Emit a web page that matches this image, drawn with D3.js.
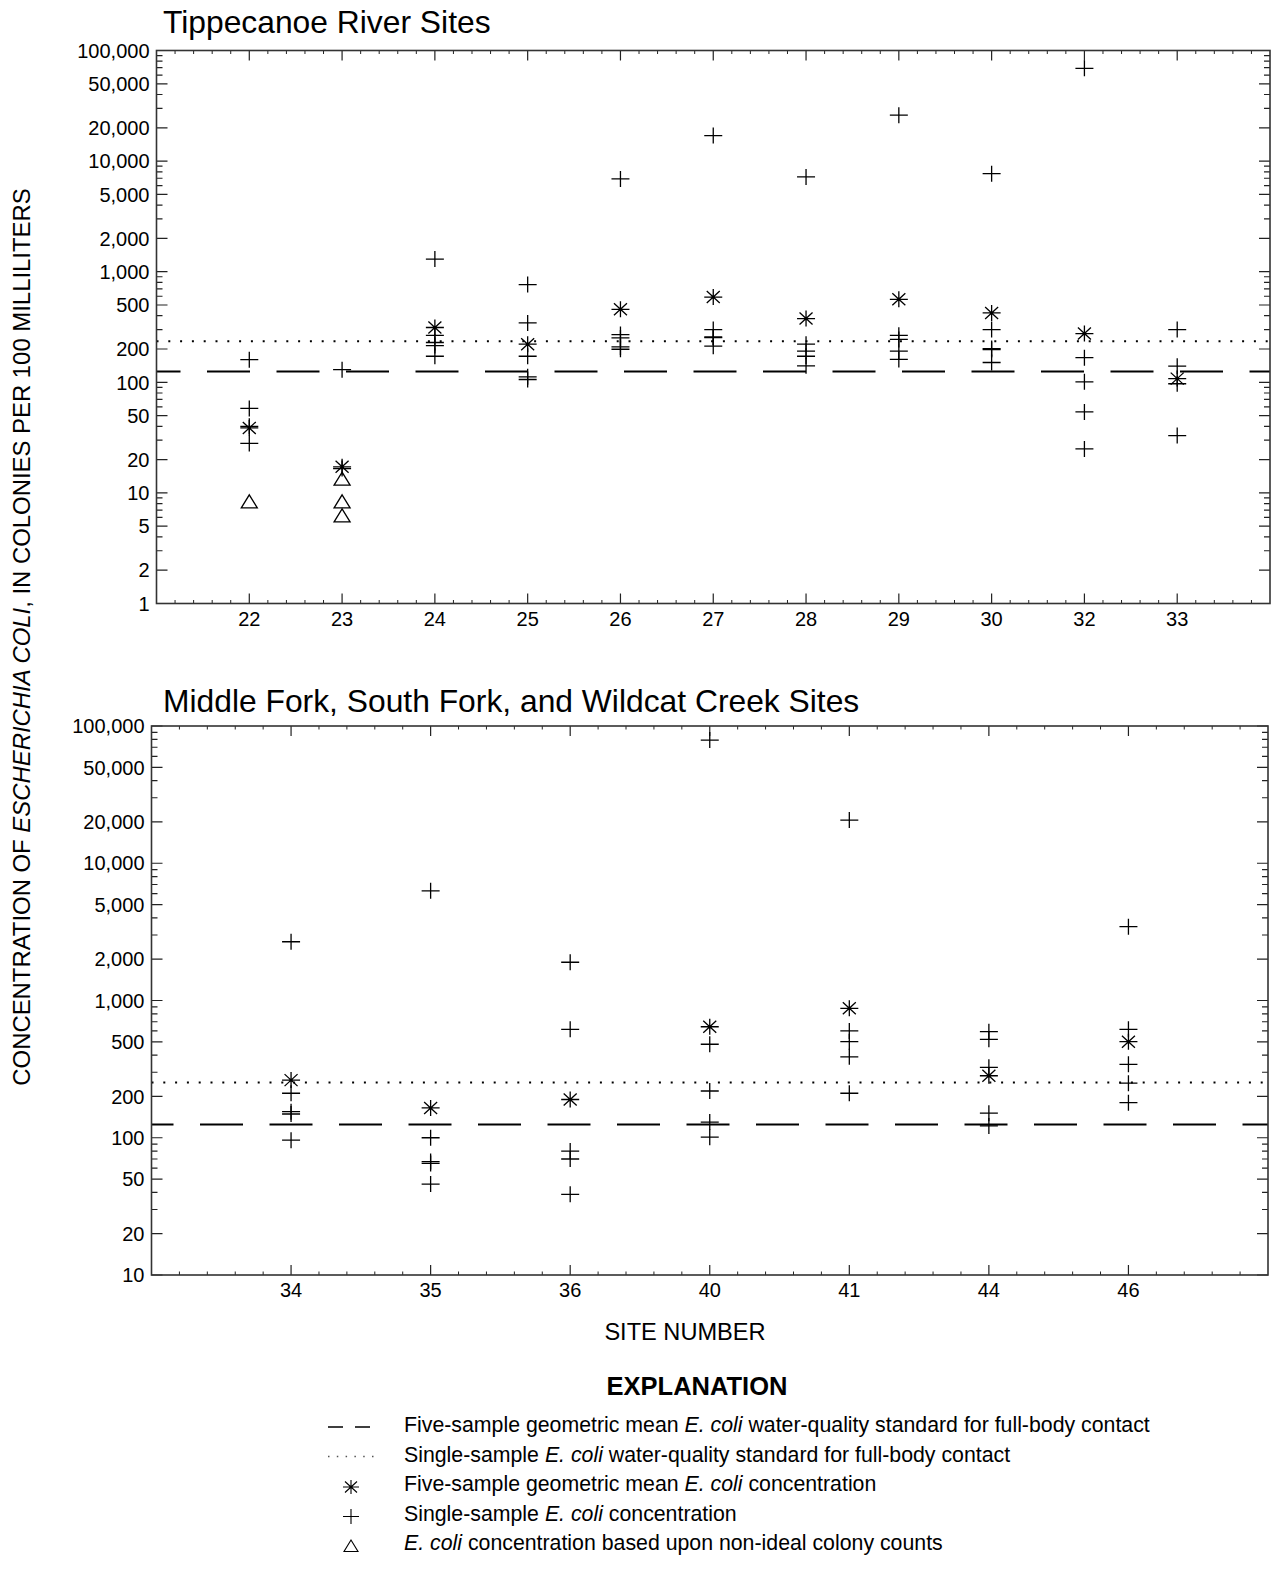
<!DOCTYPE html>
<html>
<head>
<meta charset="utf-8">
<script src="https://cdn.jsdelivr.net/npm/d3@7"></script>
<style>
  body { margin: 0; background: #fff; }
  svg { display: block; font-family: "Liberation Sans", Arial, sans-serif; }
</style>
</head>
<body>
<svg id="chart" width="1276" height="1569"></svg>
<script>
// upper panel: Tippecanoe River sites
const topSites = ['22', '23', '24', '25', '26', '27', '28', '29', '30', '32', '33'];
const topSingle = [
  [160, 58, 40, 28],
  [130, 16.6],
  [1300, 266, 229, 215, 172],
  [765, 344, 172, 112, 106],
  [6900, 270, 252, 209, 199],
  [17000, 300, 257, 254, 212],
  [7200, 221, 191, 172, 141],
  [26000, 266, 244, 191, 161],
  [7700, 300, 202, 198, 151],
  [69000, 167, 101, 54, 25],
  [300, 140, 97, 33]
];
const topNonIdeal = [[8.3], [13.3, 8.3, 6.2], [], [], [], [], [], [], [], [], []];
const topGeoMean = [38.7, 17.2, 313, 221, 457, 590, 377, 563, 424, 276, 108];
const topYTicks = [1, 2, 5, 10, 20, 50, 100, 200, 500, 1000, 2000, 5000, 10000, 20000, 50000, 100000];

// lower panel: Middle Fork, South Fork, and Wildcat Creek sites
const bottomSites = ['34', '35', '36', '40', '41', '44', '46'];
const bottomSingle = [
  [2680, 211, 155, 149, 96],
  [6300, 100, 67, 65, 46],
  [1900, 617, 80, 70, 38.7],
  [79000, 480, 219, 130, 101],
  [20650, 600, 501, 389, 211],
  [593, 521, 326, 151, 122],
  [3450, 617, 343, 250, 180]
];
const bottomNonIdeal = [[], [], [], [], [], [], []];
const bottomGeoMean = [263, 165, 190, 644, 877, 283, 501];
const bottomYTicks = [10, 20, 50, 100, 200, 500, 1000, 2000, 5000, 10000, 20000, 50000, 100000];

// water-quality standards (upper, lower)
const geoMeanStandard = [125, 125];
const singleStandard = [235, 253];

const svg = d3.select('#chart');
const fmt = d3.format(',');

const panels = [
  {
    title: 'Tippecanoe River Sites', titleY: 33,
    left: 156.5, right: 1270, top: 50.5, bottom: 603.5,
    sites: topSites, single: topSingle, nonIdeal: topNonIdeal, geo: topGeoMean,
    yTicks: topYTicks, domain: [1, 100000], dashOffset: 19
  },
  {
    title: 'Middle Fork, South Fork, and Wildcat Creek Sites', titleY: 712,
    left: 151.5, right: 1268, top: 726, bottom: 1275,
    sites: bottomSites, single: bottomSingle, nonIdeal: bottomNonIdeal, geo: bottomGeoMean,
    yTicks: bottomYTicks, domain: [10, 100000], dashOffset: 21
  }
];

const plusPath = 'M-9,0H9M0,-8V8';
const starPath = 'M-9,0H9M0,-8V8M-6.5,-6L6.5,6M-6.5,6L6.5,-6';
const triPath = 'M0,-7L8,6H-8Z';

panels.forEach((p, pi) => {
  const n = p.sites.length;
  const x = d3.scaleLinear().domain([0, n + 1]).range([p.left, p.right]);
  const y = d3.scaleLog().domain(p.domain).range([p.bottom, p.top]);
  const g = svg.append('g');

  // title
  g.append('text')
    .attr('x', 163).attr('y', p.titleY)
    .attr('font-size', 31.8)
    .text(p.title);

  // standards lines
  g.append('line')
    .attr('x1', p.left).attr('x2', p.right)
    .attr('y1', y(singleStandard[pi])).attr('y2', y(singleStandard[pi]))
    .attr('stroke', '#000').attr('stroke-width', 2)
    .attr('stroke-dasharray', '2 9.8');
  g.append('line')
    .attr('x1', p.left).attr('x2', p.right)
    .attr('y1', y(geoMeanStandard[pi])).attr('y2', y(geoMeanStandard[pi]))
    .attr('stroke', '#000').attr('stroke-width', 2)
    .attr('stroke-dasharray', '43 26.5')
    .attr('stroke-dashoffset', p.dashOffset);

  // y ticks
  const major = new Set(p.yTicks);
  y.ticks().forEach(v => {
    const len = major.has(v) ? 11 : 6;
    g.append('path')
      .attr('d', `M${p.left},${y(v)}h${len}M${p.right},${y(v)}h${-len}`)
      .attr('stroke', '#222').attr('stroke-width', 1.2);
  });
  g.selectAll('.ylab')
    .data(p.yTicks)
    .enter()
    .append('text')
    .attr('x', p.left - 7)
    .attr('y', d => y(d))
    .attr('dy', '0.36em')
    .attr('text-anchor', 'end')
    .attr('font-size', 20)
    .text(d => fmt(d));

  // x ticks
  for (let i = 0; i <= n; i++) {
    for (let k = 1; k < 5; k++) {
      const xv = x(i + k / 5);
      g.append('path')
        .attr('d', `M${xv},${p.bottom}v-3.5M${xv},${p.top}v3.5`)
        .attr('stroke', '#222').attr('stroke-width', 1);
    }
  }
  p.sites.forEach((s, i) => {
    const xv = x(i + 1);
    g.append('path')
      .attr('d', `M${xv},${p.bottom}v-10M${xv},${p.top}v10`)
      .attr('stroke', '#222').attr('stroke-width', 1.2);
    g.append('text')
      .attr('x', xv).attr('y', p.bottom + 22)
      .attr('text-anchor', 'middle')
      .attr('font-size', 20)
      .text(s);
  });

  // frame
  g.append('rect')
    .attr('x', p.left).attr('y', p.top)
    .attr('width', p.right - p.left).attr('height', p.bottom - p.top)
    .attr('fill', 'none').attr('stroke', '#333').attr('stroke-width', 1.6);

  // markers
  const pts = [];
  p.single.forEach((vals, i) => vals.forEach(v => pts.push({ i, v, type: 'plus' })));
  p.nonIdeal.forEach((vals, i) => vals.forEach(v => pts.push({ i, v, type: 'tri' })));
  p.geo.forEach((v, i) => pts.push({ i, v, type: 'star' }));

  g.selectAll('.mark')
    .data(pts)
    .enter()
    .append('path')
    .attr('transform', d => `translate(${x(d.i + 1)},${y(d.v)})`)
    .attr('d', d => d.type === 'plus' ? plusPath : d.type === 'star' ? starPath : triPath)
    .attr('fill', 'none')
    .attr('stroke', '#000')
    .attr('stroke-width', 1.3);
});

// axis titles
const yTitle = svg.append('text')
  .attr('transform', 'translate(30,637) rotate(-90)')
  .attr('text-anchor', 'middle')
  .attr('font-size', 23.9);
yTitle.append('tspan').text('CONCENTRATION OF ');
yTitle.append('tspan').attr('font-style', 'italic').text('ESCHERICHIA COLI');
yTitle.append('tspan').text(', IN COLONIES PER 100 MILLILITERS');

svg.append('text')
  .attr('x', 685).attr('y', 1340)
  .attr('text-anchor', 'middle')
  .attr('font-size', 23.6)
  .text('SITE NUMBER');

// explanation
svg.append('text')
  .attr('x', 697).attr('y', 1395)
  .attr('text-anchor', 'middle')
  .attr('font-size', 25.5)
  .attr('font-weight', 'bold')
  .text('EXPLANATION');

const legendRows = [
  { sym: 'dash', parts: ['Five-sample geometric mean ', 'E. coli', ' water-quality standard for full-body contact'] },
  { sym: 'dot', parts: ['Single-sample ', 'E. coli', ' water-quality standard for full-body contact'] },
  { sym: 'star', parts: ['Five-sample geometric mean ', 'E. coli', ' concentration'] },
  { sym: 'plus', parts: ['Single-sample ', 'E. coli', ' concentration'] },
  { sym: 'tri', parts: ['', 'E. coli', ' concentration based upon non-ideal colony counts'] }
];

legendRows.forEach((r, i) => {
  const cy = 1425 + i * 29.5;
  const t = svg.append('text')
    .attr('x', 404).attr('y', cy).attr('dy', '0.35em')
    .attr('font-size', 21.3);
  r.parts.forEach((s, j) => {
    if (s) t.append('tspan').attr('font-style', j === 1 ? 'italic' : null).text(s);
  });
  const sy = cy + 2;
  if (r.sym === 'dash') {
    svg.append('path').attr('d', `M328,${sy}h15M355,${sy}h15`)
      .attr('stroke', '#000').attr('stroke-width', 1.5);
  } else if (r.sym === 'dot') {
    svg.append('line').attr('x1', 328).attr('x2', 374).attr('y1', sy).attr('y2', sy)
      .attr('stroke', '#555').attr('stroke-width', 1.5).attr('stroke-dasharray', '1.5 7.3');
  } else {
    const d = r.sym === 'star' ? 'M-8,0H8M0,-7V7M-6,-5.5L6,5.5M-6,5.5L6,-5.5'
      : r.sym === 'plus' ? 'M-8,0H8M0,-7.5V7.5' : 'M0,-6L7,5.5H-7Z';
    svg.append('path').attr('transform', `translate(351,${sy + 1})`).attr('d', d)
      .attr('fill', 'none').attr('stroke', '#000').attr('stroke-width', 1.1);
  }
});
</script>
</body>
</html>
